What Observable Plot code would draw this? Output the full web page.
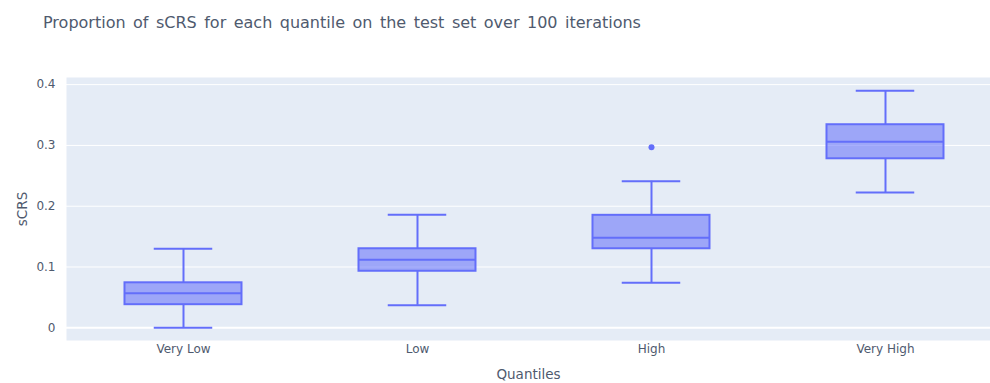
<!DOCTYPE html>
<html>
<head>
<meta charset="utf-8">
<script src="https://cdn.jsdelivr.net/npm/d3@7"></script>
<script src="https://cdn.jsdelivr.net/npm/@observablehq/plot@0.6"></script>
<style>
  html, body { margin: 0; padding: 0; background: #fff; overflow: hidden; }
  #wrap { position: relative; width: 990px; height: 383px; }
  #title { position: absolute; left: 43px; top: 14.5px; font: 16px "DejaVu Sans", sans-serif; line-height: 16px; word-spacing: 2.4px; color: #4f5a6e; white-space: nowrap; }
  #chart { position: absolute; left: 0; top: 0; }
</style>
</head>
<body>
<div id="wrap">
  <div id="chart"></div>
  <div id="title">Proportion of sCRS for each quantile on the test set over 100 iterations</div>
</div>
<script>
const categories = ["Very Low", "Low", "High", "Very High"];
const lowerFence = [0.0, 0.037, 0.074, 0.2225];
const q1 = [0.038, 0.093, 0.130, 0.278];
const median = [0.057, 0.112, 0.148, 0.306];
const q3 = [0.074, 0.130, 0.185, 0.334];
const upperFence = [0.130, 0.186, 0.241, 0.390];
const outlierCategories = ["High"];
const outlierValues = [0.297];
const yTicks = [0, 0.1, 0.2, 0.3, 0.4];

const boxes = categories.map((c, i) => ({
  cat: c, lo: lowerFence[i], q1: q1[i], med: median[i], q3: q3[i], hi: upperFence[i]
}));
const outliers = outlierCategories.map((c, i) => ({cat: c, value: outlierValues[i]}));

const color = "#636efa";
const textColor = "#4f5a6e";
const capInset = 29.25;

const chart = Plot.plot({
  width: 990,
  height: 383,
  marginLeft: 66,
  marginRight: 0,
  marginTop: 77,
  marginBottom: 43,
  style: { fontFamily: "DejaVu Sans, sans-serif", fontSize: "12px", color: textColor, background: "transparent" },
  x: {
    type: "band",
    domain: categories,
    paddingInner: 0.5,
    paddingOuter: 0.22436,
    align: 0.5571,
    round: false,
    label: null
  },
  y: {
    domain: [-0.0209, 0.4117],
    label: null
  },
  marks: [
    Plot.frame({ fill: "#E5ECF6", stroke: "none" }),
    Plot.ruleY(yTicks, { stroke: "#ffffff", strokeWidth: d => d === 0 ? 2 : 1 }),
    Plot.axisY(yTicks, {
      ticks: yTicks,
      tickSize: 0,
      tickPadding: 11,
      tickFormat: d => d === 0 ? "0" : d3.format(".1f")(d),
      fontSize: 12,
      label: "sCRS",
      labelAnchor: "center",
      labelArrow: "none",
      labelOffset: 49
    }),
    Plot.axisX({
      tickSize: 0,
      tickPadding: 4,
      fontSize: 12,
      label: "Quantiles",
      labelAnchor: "center",
      labelArrow: "none",
      labelOffset: 38
    }),
    Plot.ruleX(boxes, { x: "cat", y1: "lo", y2: "q1", stroke: color, strokeWidth: 2 }),
    Plot.ruleX(boxes, { x: "cat", y1: "q3", y2: "hi", stroke: color, strokeWidth: 2 }),
    Plot.tickY(boxes, { x: "cat", y: "lo", stroke: color, strokeWidth: 2, insetLeft: capInset, insetRight: capInset }),
    Plot.tickY(boxes, { x: "cat", y: "hi", stroke: color, strokeWidth: 2, insetLeft: capInset, insetRight: capInset }),
    Plot.barY(boxes, { x: "cat", y1: "q1", y2: "q3", fill: color, fillOpacity: 0.55, stroke: color, strokeWidth: 2 }),
    Plot.tickY(boxes, { x: "cat", y: "med", stroke: color, strokeWidth: 2 }),
    Plot.dot(outliers, { x: "cat", y: "value", r: 3, fill: color, stroke: "none" })
  ]
});
chart.querySelectorAll("g[aria-label='y-axis label'] text, g[aria-label='x-axis label'] text").forEach(t => t.setAttribute("font-size", "13.5"));
document.getElementById("chart").appendChild(chart);
</script>
</body>
</html>
